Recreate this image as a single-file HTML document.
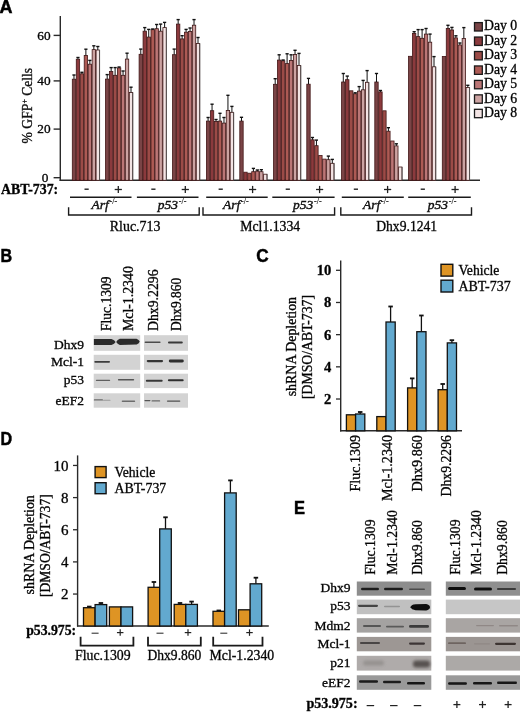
<!DOCTYPE html>
<html><head><meta charset="utf-8"><title>Figure</title>
<style>
html,body{margin:0;padding:0;background:#fff;}
body{width:520px;height:712px;overflow:hidden;font-family:"Liberation Serif",serif;}
svg{display:block;filter:blur(0.35px);}
text{stroke:#111;stroke-width:0.34px;}
</style></head><body>
<svg width="520" height="712" viewBox="0 0 520 712">
<defs>
<filter id="bS" x="-20%" y="-100%" width="140%" height="300%"><feGaussianBlur stdDeviation="0.6"/></filter>
<filter id="bL" x="-20%" y="-100%" width="140%" height="300%"><feGaussianBlur stdDeviation="1.4"/></filter>
</defs>
<rect width="520" height="712" fill="#fff"/>
<text x="-0.6" y="12.5" font-size="18.5" font-family="Liberation Sans" font-weight="bold" textLength="13" lengthAdjust="spacingAndGlyphs" fill="#000" style="stroke:#000;stroke-width:0.5px">A</text>
<line x1="60.3" y1="16" x2="60.3" y2="180.9" stroke="#2a2a2a" stroke-width="1.4"/>
<line x1="59.6" y1="180.3" x2="480" y2="180.3" stroke="#2a2a2a" stroke-width="1.4"/>
<line x1="53.6" y1="35.4" x2="60.3" y2="35.4" stroke="#2a2a2a" stroke-width="1.4"/>
<text x="50.6" y="39.5" font-size="13.3" font-family="Liberation Serif" text-anchor="end">60</text>
<line x1="53.6" y1="80.9" x2="60.3" y2="80.9" stroke="#2a2a2a" stroke-width="1.4"/>
<text x="50.6" y="85" font-size="13.3" font-family="Liberation Serif" text-anchor="end">40</text>
<line x1="53.6" y1="129.1" x2="60.3" y2="129.1" stroke="#2a2a2a" stroke-width="1.4"/>
<text x="50.6" y="133.2" font-size="13.3" font-family="Liberation Serif" text-anchor="end">20</text>
<line x1="53.6" y1="177.7" x2="60.3" y2="177.7" stroke="#2a2a2a" stroke-width="1.4"/>
<text x="48.4" y="181.8" font-size="13.3" font-family="Liberation Serif" text-anchor="end">0</text>
<text x="31.6" y="143.8" font-size="14.2" font-family="Liberation Serif" fill="#111" transform="rotate(-90 31.4 143.6)" textLength="75.6" lengthAdjust="spacingAndGlyphs">% GFP<tspan font-size="8" dy="-5">+</tspan><tspan dy="5"> Cells</tspan></text>
<rect x="72.3" y="79.2" width="3.37" height="101.1" fill="#7a4446" stroke="#421616" stroke-width="0.8"/>
<rect x="76.27" y="59.2" width="3.37" height="121.1" fill="#8b3a3d" stroke="#421616" stroke-width="0.8"/>
<rect x="80.24" y="73.8" width="3.37" height="106.5" fill="#9c4b47" stroke="#421616" stroke-width="0.8"/>
<rect x="84.21" y="55.4" width="3.37" height="124.9" fill="#ad5a54" stroke="#421616" stroke-width="0.8"/>
<rect x="88.18" y="64.2" width="3.37" height="116.1" fill="#bb7676" stroke="#421616" stroke-width="0.8"/>
<rect x="92.15" y="49.6" width="3.37" height="130.7" fill="#cca3a2" stroke="#421616" stroke-width="0.8"/>
<rect x="96.12" y="50" width="3.37" height="130.3" fill="#f3e4e4" stroke="#421616" stroke-width="0.8"/>
<line x1="73.98" y1="79.2" x2="73.98" y2="75" stroke="#111111" stroke-width="1"/>
<line x1="72.39" y1="75" x2="75.58" y2="75" stroke="#111111" stroke-width="1.4"/>
<line x1="77.95" y1="59.2" x2="77.95" y2="57.5" stroke="#111111" stroke-width="1"/>
<line x1="76.36" y1="57.5" x2="79.55" y2="57.5" stroke="#111111" stroke-width="1.4"/>
<line x1="81.92" y1="73.8" x2="81.92" y2="72.3" stroke="#111111" stroke-width="1"/>
<line x1="80.33" y1="72.3" x2="83.52" y2="72.3" stroke="#111111" stroke-width="1.4"/>
<line x1="85.89" y1="55.4" x2="85.89" y2="49.2" stroke="#111111" stroke-width="1"/>
<line x1="84.3" y1="49.2" x2="87.49" y2="49.2" stroke="#111111" stroke-width="1.4"/>
<line x1="89.86" y1="64.2" x2="89.86" y2="60.4" stroke="#111111" stroke-width="1"/>
<line x1="88.27" y1="60.4" x2="91.46" y2="60.4" stroke="#111111" stroke-width="1.4"/>
<line x1="93.83" y1="49.6" x2="93.83" y2="45.8" stroke="#111111" stroke-width="1"/>
<line x1="92.23" y1="45.8" x2="95.43" y2="45.8" stroke="#111111" stroke-width="1.4"/>
<line x1="97.8" y1="50" x2="97.8" y2="46.5" stroke="#111111" stroke-width="1"/>
<line x1="96.2" y1="46.5" x2="99.4" y2="46.5" stroke="#111111" stroke-width="1.4"/>
<line x1="99.59" y1="50" x2="99.59" y2="180.3" stroke="#555" stroke-width="0.9"/>
<rect x="105.5" y="79.1" width="3.37" height="101.2" fill="#7a4446" stroke="#421616" stroke-width="0.8"/>
<rect x="109.47" y="71.4" width="3.37" height="108.9" fill="#8b3a3d" stroke="#421616" stroke-width="0.8"/>
<rect x="113.44" y="75.3" width="3.37" height="105" fill="#9c4b47" stroke="#421616" stroke-width="0.8"/>
<rect x="117.41" y="67.9" width="3.37" height="112.4" fill="#ad5a54" stroke="#421616" stroke-width="0.8"/>
<rect x="121.38" y="75.3" width="3.37" height="105" fill="#bb7676" stroke="#421616" stroke-width="0.8"/>
<rect x="125.35" y="59.1" width="3.37" height="121.2" fill="#cca3a2" stroke="#421616" stroke-width="0.8"/>
<rect x="129.32" y="92.5" width="3.37" height="87.8" fill="#f3e4e4" stroke="#421616" stroke-width="0.8"/>
<line x1="107.19" y1="79.1" x2="107.19" y2="74.6" stroke="#111111" stroke-width="1"/>
<line x1="105.59" y1="74.6" x2="108.78" y2="74.6" stroke="#111111" stroke-width="1.4"/>
<line x1="111.16" y1="71.4" x2="111.16" y2="67.6" stroke="#111111" stroke-width="1"/>
<line x1="109.56" y1="67.6" x2="112.75" y2="67.6" stroke="#111111" stroke-width="1.4"/>
<line x1="115.12" y1="75.3" x2="115.12" y2="67.6" stroke="#111111" stroke-width="1"/>
<line x1="113.53" y1="67.6" x2="116.72" y2="67.6" stroke="#111111" stroke-width="1.4"/>
<line x1="119.09" y1="67.9" x2="119.09" y2="67" stroke="#111111" stroke-width="1"/>
<line x1="117.5" y1="67" x2="120.69" y2="67" stroke="#111111" stroke-width="1.4"/>
<line x1="123.06" y1="75.3" x2="123.06" y2="71" stroke="#111111" stroke-width="1"/>
<line x1="121.47" y1="71" x2="124.66" y2="71" stroke="#111111" stroke-width="1.4"/>
<line x1="127.04" y1="59.1" x2="127.04" y2="53.2" stroke="#111111" stroke-width="1"/>
<line x1="125.44" y1="53.2" x2="128.64" y2="53.2" stroke="#111111" stroke-width="1.4"/>
<line x1="131.01" y1="92.5" x2="131.01" y2="87.2" stroke="#111111" stroke-width="1"/>
<line x1="129.41" y1="87.2" x2="132.61" y2="87.2" stroke="#111111" stroke-width="1.4"/>
<line x1="132.79" y1="92.5" x2="132.79" y2="180.3" stroke="#555" stroke-width="0.9"/>
<rect x="139.1" y="54.3" width="3.37" height="126" fill="#7a4446" stroke="#421616" stroke-width="0.8"/>
<rect x="143.07" y="31.2" width="3.37" height="149.1" fill="#8b3a3d" stroke="#421616" stroke-width="0.8"/>
<rect x="147.04" y="37.1" width="3.37" height="143.2" fill="#9c4b47" stroke="#421616" stroke-width="0.8"/>
<rect x="151.01" y="29.7" width="3.37" height="150.6" fill="#ad5a54" stroke="#421616" stroke-width="0.8"/>
<rect x="154.98" y="28.7" width="3.37" height="151.6" fill="#bb7676" stroke="#421616" stroke-width="0.8"/>
<rect x="158.95" y="31.2" width="3.37" height="149.1" fill="#cca3a2" stroke="#421616" stroke-width="0.8"/>
<rect x="162.92" y="27.6" width="3.37" height="152.7" fill="#f3e4e4" stroke="#421616" stroke-width="0.8"/>
<line x1="140.79" y1="54.3" x2="140.79" y2="49.1" stroke="#111111" stroke-width="1"/>
<line x1="139.19" y1="49.1" x2="142.39" y2="49.1" stroke="#111111" stroke-width="1.4"/>
<line x1="144.76" y1="31.2" x2="144.76" y2="27.6" stroke="#111111" stroke-width="1"/>
<line x1="143.16" y1="27.6" x2="146.36" y2="27.6" stroke="#111111" stroke-width="1.4"/>
<line x1="148.73" y1="37.1" x2="148.73" y2="29.4" stroke="#111111" stroke-width="1"/>
<line x1="147.13" y1="29.4" x2="150.33" y2="29.4" stroke="#111111" stroke-width="1.4"/>
<line x1="152.7" y1="29.7" x2="152.7" y2="29" stroke="#111111" stroke-width="1"/>
<line x1="151.1" y1="29" x2="154.3" y2="29" stroke="#111111" stroke-width="1.4"/>
<line x1="156.67" y1="28.7" x2="156.67" y2="24.5" stroke="#111111" stroke-width="1"/>
<line x1="155.07" y1="24.5" x2="158.27" y2="24.5" stroke="#111111" stroke-width="1.4"/>
<line x1="160.64" y1="31.2" x2="160.64" y2="24.1" stroke="#111111" stroke-width="1"/>
<line x1="159.04" y1="24.1" x2="162.24" y2="24.1" stroke="#111111" stroke-width="1.4"/>
<line x1="164.61" y1="27.6" x2="164.61" y2="22.4" stroke="#111111" stroke-width="1"/>
<line x1="163.01" y1="22.4" x2="166.21" y2="22.4" stroke="#111111" stroke-width="1.4"/>
<line x1="166.39" y1="27.6" x2="166.39" y2="180.3" stroke="#555" stroke-width="0.9"/>
<rect x="172.5" y="54.7" width="3.37" height="125.6" fill="#7a4446" stroke="#421616" stroke-width="0.8"/>
<rect x="176.47" y="24.1" width="3.37" height="156.2" fill="#8b3a3d" stroke="#421616" stroke-width="0.8"/>
<rect x="180.44" y="38.9" width="3.37" height="141.4" fill="#9c4b47" stroke="#421616" stroke-width="0.8"/>
<rect x="184.41" y="32.2" width="3.37" height="148.1" fill="#ad5a54" stroke="#421616" stroke-width="0.8"/>
<rect x="188.38" y="31.5" width="3.37" height="148.8" fill="#bb7676" stroke="#421616" stroke-width="0.8"/>
<rect x="192.35" y="25.2" width="3.37" height="155.1" fill="#cca3a2" stroke="#421616" stroke-width="0.8"/>
<rect x="196.32" y="43.4" width="3.37" height="136.9" fill="#f3e4e4" stroke="#421616" stroke-width="0.8"/>
<line x1="174.19" y1="54.7" x2="174.19" y2="49.1" stroke="#111111" stroke-width="1"/>
<line x1="172.59" y1="49.1" x2="175.78" y2="49.1" stroke="#111111" stroke-width="1.4"/>
<line x1="178.16" y1="24.1" x2="178.16" y2="19.6" stroke="#111111" stroke-width="1"/>
<line x1="176.56" y1="19.6" x2="179.75" y2="19.6" stroke="#111111" stroke-width="1.4"/>
<line x1="182.12" y1="38.9" x2="182.12" y2="35.7" stroke="#111111" stroke-width="1"/>
<line x1="180.53" y1="35.7" x2="183.72" y2="35.7" stroke="#111111" stroke-width="1.4"/>
<line x1="186.09" y1="32.2" x2="186.09" y2="29.4" stroke="#111111" stroke-width="1"/>
<line x1="184.5" y1="29.4" x2="187.69" y2="29.4" stroke="#111111" stroke-width="1.4"/>
<line x1="190.06" y1="31.5" x2="190.06" y2="28" stroke="#111111" stroke-width="1"/>
<line x1="188.47" y1="28" x2="191.66" y2="28" stroke="#111111" stroke-width="1.4"/>
<line x1="194.03" y1="25.2" x2="194.03" y2="19.6" stroke="#111111" stroke-width="1"/>
<line x1="192.44" y1="19.6" x2="195.63" y2="19.6" stroke="#111111" stroke-width="1.4"/>
<line x1="198" y1="43.4" x2="198" y2="37.5" stroke="#111111" stroke-width="1"/>
<line x1="196.41" y1="37.5" x2="199.6" y2="37.5" stroke="#111111" stroke-width="1.4"/>
<line x1="199.79" y1="43.4" x2="199.79" y2="180.3" stroke="#555" stroke-width="0.9"/>
<rect x="206.4" y="121.1" width="3.37" height="59.2" fill="#7a4446" stroke="#421616" stroke-width="0.8"/>
<rect x="210.37" y="110.7" width="3.37" height="69.6" fill="#8b3a3d" stroke="#421616" stroke-width="0.8"/>
<rect x="214.34" y="121.5" width="3.37" height="58.8" fill="#9c4b47" stroke="#421616" stroke-width="0.8"/>
<rect x="218.31" y="121.1" width="3.37" height="59.2" fill="#ad5a54" stroke="#421616" stroke-width="0.8"/>
<rect x="222.28" y="123.1" width="3.37" height="57.2" fill="#bb7676" stroke="#421616" stroke-width="0.8"/>
<rect x="226.25" y="110.4" width="3.37" height="69.9" fill="#cca3a2" stroke="#421616" stroke-width="0.8"/>
<rect x="230.22" y="112.3" width="3.37" height="68" fill="#f3e4e4" stroke="#421616" stroke-width="0.8"/>
<line x1="208.09" y1="121.1" x2="208.09" y2="117.5" stroke="#111111" stroke-width="1"/>
<line x1="206.49" y1="117.5" x2="209.69" y2="117.5" stroke="#111111" stroke-width="1.4"/>
<line x1="212.06" y1="110.7" x2="212.06" y2="104.2" stroke="#111111" stroke-width="1"/>
<line x1="210.46" y1="104.2" x2="213.66" y2="104.2" stroke="#111111" stroke-width="1.4"/>
<line x1="216.03" y1="121.5" x2="216.03" y2="119.5" stroke="#111111" stroke-width="1"/>
<line x1="214.43" y1="119.5" x2="217.62" y2="119.5" stroke="#111111" stroke-width="1.4"/>
<line x1="220" y1="121.1" x2="220" y2="113.3" stroke="#111111" stroke-width="1"/>
<line x1="218.4" y1="113.3" x2="221.59" y2="113.3" stroke="#111111" stroke-width="1.4"/>
<line x1="223.97" y1="123.1" x2="223.97" y2="117.5" stroke="#111111" stroke-width="1"/>
<line x1="222.37" y1="117.5" x2="225.56" y2="117.5" stroke="#111111" stroke-width="1.4"/>
<line x1="227.94" y1="110.4" x2="227.94" y2="95.3" stroke="#111111" stroke-width="1"/>
<line x1="226.34" y1="95.3" x2="229.53" y2="95.3" stroke="#111111" stroke-width="1.4"/>
<line x1="231.91" y1="112.3" x2="231.91" y2="106.4" stroke="#111111" stroke-width="1"/>
<line x1="230.31" y1="106.4" x2="233.5" y2="106.4" stroke="#111111" stroke-width="1.4"/>
<line x1="233.69" y1="112.3" x2="233.69" y2="180.3" stroke="#555" stroke-width="0.9"/>
<rect x="239.8" y="121.1" width="3.37" height="59.2" fill="#7a4446" stroke="#421616" stroke-width="0.8"/>
<rect x="243.77" y="172.2" width="3.37" height="8.1" fill="#8b3a3d" stroke="#421616" stroke-width="0.8"/>
<rect x="247.74" y="173.2" width="3.37" height="7.1" fill="#9c4b47" stroke="#421616" stroke-width="0.8"/>
<rect x="251.71" y="171.7" width="3.37" height="8.6" fill="#ad5a54" stroke="#421616" stroke-width="0.8"/>
<rect x="255.68" y="171.2" width="3.37" height="9.1" fill="#bb7676" stroke="#421616" stroke-width="0.8"/>
<rect x="259.65" y="171.7" width="3.37" height="8.6" fill="#cca3a2" stroke="#421616" stroke-width="0.8"/>
<rect x="263.62" y="174.2" width="3.37" height="6.1" fill="#f3e4e4" stroke="#421616" stroke-width="0.8"/>
<line x1="241.49" y1="121.1" x2="241.49" y2="117.3" stroke="#111111" stroke-width="1"/>
<line x1="239.89" y1="117.3" x2="243.09" y2="117.3" stroke="#111111" stroke-width="1.4"/>
<line x1="253.4" y1="171.7" x2="253.4" y2="168.4" stroke="#111111" stroke-width="1"/>
<line x1="251.8" y1="168.4" x2="255" y2="168.4" stroke="#111111" stroke-width="1.4"/>
<line x1="257.37" y1="171.2" x2="257.37" y2="170" stroke="#111111" stroke-width="1"/>
<line x1="255.77" y1="170" x2="258.97" y2="170" stroke="#111111" stroke-width="1.4"/>
<line x1="261.34" y1="171.7" x2="261.34" y2="169.7" stroke="#111111" stroke-width="1"/>
<line x1="259.74" y1="169.7" x2="262.94" y2="169.7" stroke="#111111" stroke-width="1.4"/>
<line x1="267.09" y1="174.2" x2="267.09" y2="180.3" stroke="#555" stroke-width="0.9"/>
<rect x="273.5" y="84.3" width="3.37" height="96" fill="#7a4446" stroke="#421616" stroke-width="0.8"/>
<rect x="277.47" y="60.1" width="3.37" height="120.2" fill="#8b3a3d" stroke="#421616" stroke-width="0.8"/>
<rect x="281.44" y="60.8" width="3.37" height="119.5" fill="#9c4b47" stroke="#421616" stroke-width="0.8"/>
<rect x="285.41" y="63.6" width="3.37" height="116.7" fill="#ad5a54" stroke="#421616" stroke-width="0.8"/>
<rect x="289.38" y="60.4" width="3.37" height="119.9" fill="#bb7676" stroke="#421616" stroke-width="0.8"/>
<rect x="293.35" y="54.5" width="3.37" height="125.8" fill="#cca3a2" stroke="#421616" stroke-width="0.8"/>
<rect x="297.32" y="65.4" width="3.37" height="114.9" fill="#f3e4e4" stroke="#421616" stroke-width="0.8"/>
<line x1="275.19" y1="84.3" x2="275.19" y2="78.7" stroke="#111111" stroke-width="1"/>
<line x1="273.58" y1="78.7" x2="276.79" y2="78.7" stroke="#111111" stroke-width="1.4"/>
<line x1="279.16" y1="60.1" x2="279.16" y2="54.8" stroke="#111111" stroke-width="1"/>
<line x1="277.56" y1="54.8" x2="280.76" y2="54.8" stroke="#111111" stroke-width="1.4"/>
<line x1="283.12" y1="60.8" x2="283.12" y2="60" stroke="#111111" stroke-width="1"/>
<line x1="281.52" y1="60" x2="284.73" y2="60" stroke="#111111" stroke-width="1.4"/>
<line x1="287.1" y1="63.6" x2="287.1" y2="53.8" stroke="#111111" stroke-width="1"/>
<line x1="285.5" y1="53.8" x2="288.7" y2="53.8" stroke="#111111" stroke-width="1.4"/>
<line x1="291.06" y1="60.4" x2="291.06" y2="54.8" stroke="#111111" stroke-width="1"/>
<line x1="289.46" y1="54.8" x2="292.67" y2="54.8" stroke="#111111" stroke-width="1.4"/>
<line x1="295.04" y1="54.5" x2="295.04" y2="50.3" stroke="#111111" stroke-width="1"/>
<line x1="293.44" y1="50.3" x2="296.64" y2="50.3" stroke="#111111" stroke-width="1.4"/>
<line x1="299" y1="65.4" x2="299" y2="53.4" stroke="#111111" stroke-width="1"/>
<line x1="297.4" y1="53.4" x2="300.61" y2="53.4" stroke="#111111" stroke-width="1.4"/>
<line x1="300.79" y1="65.4" x2="300.79" y2="180.3" stroke="#555" stroke-width="0.9"/>
<rect x="306.8" y="84.2" width="3.37" height="96.1" fill="#7a4446" stroke="#421616" stroke-width="0.8"/>
<rect x="310.77" y="139.8" width="3.37" height="40.5" fill="#8b3a3d" stroke="#421616" stroke-width="0.8"/>
<rect x="314.74" y="145.7" width="3.37" height="34.6" fill="#9c4b47" stroke="#421616" stroke-width="0.8"/>
<rect x="318.71" y="155.5" width="3.37" height="24.8" fill="#ad5a54" stroke="#421616" stroke-width="0.8"/>
<rect x="322.68" y="159.1" width="3.37" height="21.2" fill="#bb7676" stroke="#421616" stroke-width="0.8"/>
<rect x="326.65" y="159.7" width="3.37" height="20.6" fill="#cca3a2" stroke="#421616" stroke-width="0.8"/>
<rect x="330.62" y="163.3" width="3.37" height="17" fill="#f3e4e4" stroke="#421616" stroke-width="0.8"/>
<line x1="308.49" y1="84.2" x2="308.49" y2="78.4" stroke="#111111" stroke-width="1"/>
<line x1="306.88" y1="78.4" x2="310.09" y2="78.4" stroke="#111111" stroke-width="1.4"/>
<line x1="312.46" y1="139.8" x2="312.46" y2="137.5" stroke="#111111" stroke-width="1"/>
<line x1="310.86" y1="137.5" x2="314.06" y2="137.5" stroke="#111111" stroke-width="1.4"/>
<line x1="316.43" y1="145.7" x2="316.43" y2="140.1" stroke="#111111" stroke-width="1"/>
<line x1="314.82" y1="140.1" x2="318.03" y2="140.1" stroke="#111111" stroke-width="1.4"/>
<line x1="328.34" y1="159.7" x2="328.34" y2="156.1" stroke="#111111" stroke-width="1"/>
<line x1="326.74" y1="156.1" x2="329.94" y2="156.1" stroke="#111111" stroke-width="1.4"/>
<line x1="332.31" y1="163.3" x2="332.31" y2="159.4" stroke="#111111" stroke-width="1"/>
<line x1="330.7" y1="159.4" x2="333.91" y2="159.4" stroke="#111111" stroke-width="1.4"/>
<line x1="334.09" y1="163.3" x2="334.09" y2="180.3" stroke="#555" stroke-width="0.9"/>
<rect x="341.6" y="82" width="3.37" height="98.3" fill="#7a4446" stroke="#421616" stroke-width="0.8"/>
<rect x="345.57" y="79.7" width="3.37" height="100.6" fill="#8b3a3d" stroke="#421616" stroke-width="0.8"/>
<rect x="349.54" y="90.8" width="3.37" height="89.5" fill="#9c4b47" stroke="#421616" stroke-width="0.8"/>
<rect x="353.51" y="93.8" width="3.37" height="86.5" fill="#ad5a54" stroke="#421616" stroke-width="0.8"/>
<rect x="357.48" y="91.1" width="3.37" height="89.2" fill="#bb7676" stroke="#421616" stroke-width="0.8"/>
<rect x="361.45" y="89.8" width="3.37" height="90.5" fill="#cca3a2" stroke="#421616" stroke-width="0.8"/>
<rect x="365.42" y="82.3" width="3.37" height="98" fill="#f3e4e4" stroke="#421616" stroke-width="0.8"/>
<line x1="343.29" y1="82" x2="343.29" y2="73.5" stroke="#111111" stroke-width="1"/>
<line x1="341.69" y1="73.5" x2="344.89" y2="73.5" stroke="#111111" stroke-width="1.4"/>
<line x1="347.26" y1="79.7" x2="347.26" y2="76.1" stroke="#111111" stroke-width="1"/>
<line x1="345.66" y1="76.1" x2="348.86" y2="76.1" stroke="#111111" stroke-width="1.4"/>
<line x1="355.2" y1="93.8" x2="355.2" y2="92.8" stroke="#111111" stroke-width="1"/>
<line x1="353.6" y1="92.8" x2="356.8" y2="92.8" stroke="#111111" stroke-width="1.4"/>
<line x1="359.17" y1="91.1" x2="359.17" y2="86.6" stroke="#111111" stroke-width="1"/>
<line x1="357.56" y1="86.6" x2="360.77" y2="86.6" stroke="#111111" stroke-width="1.4"/>
<line x1="363.14" y1="89.8" x2="363.14" y2="80.4" stroke="#111111" stroke-width="1"/>
<line x1="361.54" y1="80.4" x2="364.74" y2="80.4" stroke="#111111" stroke-width="1.4"/>
<line x1="367.11" y1="82.3" x2="367.11" y2="70.6" stroke="#111111" stroke-width="1"/>
<line x1="365.5" y1="70.6" x2="368.71" y2="70.6" stroke="#111111" stroke-width="1.4"/>
<line x1="368.89" y1="82.3" x2="368.89" y2="180.3" stroke="#555" stroke-width="0.9"/>
<rect x="374.8" y="82" width="3.37" height="98.3" fill="#7a4446" stroke="#421616" stroke-width="0.8"/>
<rect x="378.77" y="91.9" width="3.37" height="88.4" fill="#8b3a3d" stroke="#421616" stroke-width="0.8"/>
<rect x="382.74" y="110.8" width="3.37" height="69.5" fill="#9c4b47" stroke="#421616" stroke-width="0.8"/>
<rect x="386.71" y="131.2" width="3.37" height="49.1" fill="#ad5a54" stroke="#421616" stroke-width="0.8"/>
<rect x="390.68" y="141" width="3.37" height="39.3" fill="#bb7676" stroke="#421616" stroke-width="0.8"/>
<rect x="394.65" y="145.9" width="3.37" height="34.4" fill="#cca3a2" stroke="#421616" stroke-width="0.8"/>
<rect x="398.62" y="167" width="3.37" height="13.3" fill="#f3e4e4" stroke="#421616" stroke-width="0.8"/>
<line x1="376.49" y1="82" x2="376.49" y2="73.5" stroke="#111111" stroke-width="1"/>
<line x1="374.88" y1="73.5" x2="378.09" y2="73.5" stroke="#111111" stroke-width="1.4"/>
<line x1="380.46" y1="91.9" x2="380.46" y2="90.5" stroke="#111111" stroke-width="1"/>
<line x1="378.86" y1="90.5" x2="382.06" y2="90.5" stroke="#111111" stroke-width="1.4"/>
<line x1="388.4" y1="131.2" x2="388.4" y2="127.7" stroke="#111111" stroke-width="1"/>
<line x1="386.8" y1="127.7" x2="390" y2="127.7" stroke="#111111" stroke-width="1.4"/>
<line x1="396.34" y1="145.9" x2="396.34" y2="143.8" stroke="#111111" stroke-width="1"/>
<line x1="394.74" y1="143.8" x2="397.94" y2="143.8" stroke="#111111" stroke-width="1.4"/>
<line x1="402.09" y1="167" x2="402.09" y2="180.3" stroke="#555" stroke-width="0.9"/>
<rect x="408.5" y="56.3" width="3.37" height="124" fill="#7a4446" stroke="#421616" stroke-width="0.8"/>
<rect x="412.47" y="33.4" width="3.37" height="146.9" fill="#8b3a3d" stroke="#421616" stroke-width="0.8"/>
<rect x="416.44" y="36.6" width="3.37" height="143.7" fill="#9c4b47" stroke="#421616" stroke-width="0.8"/>
<rect x="420.41" y="38.3" width="3.37" height="142" fill="#ad5a54" stroke="#421616" stroke-width="0.8"/>
<rect x="424.38" y="34.1" width="3.37" height="146.2" fill="#bb7676" stroke="#421616" stroke-width="0.8"/>
<rect x="428.35" y="42.2" width="3.37" height="138.1" fill="#cca3a2" stroke="#421616" stroke-width="0.8"/>
<rect x="432.32" y="66.8" width="3.37" height="113.5" fill="#f3e4e4" stroke="#421616" stroke-width="0.8"/>
<line x1="414.16" y1="33.4" x2="414.16" y2="31.7" stroke="#111111" stroke-width="1"/>
<line x1="412.56" y1="31.7" x2="415.76" y2="31.7" stroke="#111111" stroke-width="1.4"/>
<line x1="418.12" y1="36.6" x2="418.12" y2="29.6" stroke="#111111" stroke-width="1"/>
<line x1="416.52" y1="29.6" x2="419.73" y2="29.6" stroke="#111111" stroke-width="1.4"/>
<line x1="422.1" y1="38.3" x2="422.1" y2="29.6" stroke="#111111" stroke-width="1"/>
<line x1="420.5" y1="29.6" x2="423.7" y2="29.6" stroke="#111111" stroke-width="1.4"/>
<line x1="426.06" y1="34.1" x2="426.06" y2="28.5" stroke="#111111" stroke-width="1"/>
<line x1="424.46" y1="28.5" x2="427.67" y2="28.5" stroke="#111111" stroke-width="1.4"/>
<line x1="430.04" y1="42.2" x2="430.04" y2="34.1" stroke="#111111" stroke-width="1"/>
<line x1="428.44" y1="34.1" x2="431.64" y2="34.1" stroke="#111111" stroke-width="1.4"/>
<line x1="434" y1="66.8" x2="434" y2="56.6" stroke="#111111" stroke-width="1"/>
<line x1="432.4" y1="56.6" x2="435.61" y2="56.6" stroke="#111111" stroke-width="1.4"/>
<line x1="435.79" y1="66.8" x2="435.79" y2="180.3" stroke="#555" stroke-width="0.9"/>
<rect x="442.3" y="56.4" width="3.37" height="123.9" fill="#7a4446" stroke="#421616" stroke-width="0.8"/>
<rect x="446.27" y="28.4" width="3.37" height="151.9" fill="#8b3a3d" stroke="#421616" stroke-width="0.8"/>
<rect x="450.24" y="30" width="3.37" height="150.3" fill="#9c4b47" stroke="#421616" stroke-width="0.8"/>
<rect x="454.21" y="37.9" width="3.37" height="142.4" fill="#ad5a54" stroke="#421616" stroke-width="0.8"/>
<rect x="458.18" y="45" width="3.37" height="135.3" fill="#bb7676" stroke="#421616" stroke-width="0.8"/>
<rect x="462.15" y="38.4" width="3.37" height="141.9" fill="#cca3a2" stroke="#421616" stroke-width="0.8"/>
<rect x="466.12" y="87.4" width="3.37" height="92.9" fill="#f3e4e4" stroke="#421616" stroke-width="0.8"/>
<line x1="447.96" y1="28.4" x2="447.96" y2="25.3" stroke="#111111" stroke-width="1"/>
<line x1="446.36" y1="25.3" x2="449.56" y2="25.3" stroke="#111111" stroke-width="1.4"/>
<line x1="451.93" y1="30" x2="451.93" y2="27.4" stroke="#111111" stroke-width="1"/>
<line x1="450.32" y1="27.4" x2="453.53" y2="27.4" stroke="#111111" stroke-width="1.4"/>
<line x1="455.9" y1="37.9" x2="455.9" y2="35.8" stroke="#111111" stroke-width="1"/>
<line x1="454.3" y1="35.8" x2="457.5" y2="35.8" stroke="#111111" stroke-width="1.4"/>
<line x1="459.87" y1="45" x2="459.87" y2="43" stroke="#111111" stroke-width="1"/>
<line x1="458.26" y1="43" x2="461.47" y2="43" stroke="#111111" stroke-width="1.4"/>
<line x1="463.84" y1="38.4" x2="463.84" y2="27.6" stroke="#111111" stroke-width="1"/>
<line x1="462.24" y1="27.6" x2="465.44" y2="27.6" stroke="#111111" stroke-width="1.4"/>
<line x1="467.81" y1="87.4" x2="467.81" y2="85.3" stroke="#111111" stroke-width="1"/>
<line x1="466.2" y1="85.3" x2="469.41" y2="85.3" stroke="#111111" stroke-width="1.4"/>
<line x1="469.59" y1="87.4" x2="469.59" y2="180.3" stroke="#555" stroke-width="0.9"/>
<rect x="474.5" y="22.6" width="7.8" height="8.4" fill="#7a4446" stroke="#1a1a1a" stroke-width="1.3"/>
<text x="484" y="30.3" font-size="14" font-family="Liberation Serif" textLength="33.2" lengthAdjust="spacingAndGlyphs">Day 0</text>
<rect x="474.5" y="37.05" width="7.8" height="8.4" fill="#8b3a3d" stroke="#1a1a1a" stroke-width="1.3"/>
<text x="484" y="44.75" font-size="14" font-family="Liberation Serif" textLength="33.2" lengthAdjust="spacingAndGlyphs">Day 2</text>
<rect x="474.5" y="51.5" width="7.8" height="8.4" fill="#9c4b47" stroke="#1a1a1a" stroke-width="1.3"/>
<text x="484" y="59.2" font-size="14" font-family="Liberation Serif" textLength="33.2" lengthAdjust="spacingAndGlyphs">Day 3</text>
<rect x="474.5" y="65.95" width="7.8" height="8.4" fill="#ad5a54" stroke="#1a1a1a" stroke-width="1.3"/>
<text x="484" y="73.65" font-size="14" font-family="Liberation Serif" textLength="33.2" lengthAdjust="spacingAndGlyphs">Day 4</text>
<rect x="474.5" y="80.4" width="7.8" height="8.4" fill="#bb7676" stroke="#1a1a1a" stroke-width="1.3"/>
<text x="484" y="88.1" font-size="14" font-family="Liberation Serif" textLength="33.2" lengthAdjust="spacingAndGlyphs">Day 5</text>
<rect x="474.5" y="94.85" width="7.8" height="8.4" fill="#cca3a2" stroke="#1a1a1a" stroke-width="1.3"/>
<text x="484" y="102.55" font-size="14" font-family="Liberation Serif" textLength="33.2" lengthAdjust="spacingAndGlyphs">Day 6</text>
<rect x="474.5" y="109.3" width="7.8" height="8.4" fill="#f3e4e4" stroke="#1a1a1a" stroke-width="1.3"/>
<text x="484" y="117" font-size="14" font-family="Liberation Serif" textLength="33.2" lengthAdjust="spacingAndGlyphs">Day 8</text>
<text x="1" y="193.6" font-size="14" font-family="Liberation Serif" font-weight="bold" textLength="57.2" lengthAdjust="spacingAndGlyphs">ABT-737:</text>
<line x1="84.5" y1="189.2" x2="88.7" y2="189.2" stroke="#222" stroke-width="1.4"/>
<line x1="114.7" y1="189.5" x2="121.9" y2="189.5" stroke="#222" stroke-width="1.3"/>
<line x1="118.3" y1="185.9" x2="118.3" y2="193.1" stroke="#222" stroke-width="1.3"/>
<line x1="151.3" y1="189.2" x2="155.5" y2="189.2" stroke="#222" stroke-width="1.4"/>
<line x1="181.7" y1="189.5" x2="188.9" y2="189.5" stroke="#222" stroke-width="1.3"/>
<line x1="185.3" y1="185.9" x2="185.3" y2="193.1" stroke="#222" stroke-width="1.3"/>
<line x1="218.6" y1="189.2" x2="222.8" y2="189.2" stroke="#222" stroke-width="1.4"/>
<line x1="249" y1="189.5" x2="256.2" y2="189.5" stroke="#222" stroke-width="1.3"/>
<line x1="252.6" y1="185.9" x2="252.6" y2="193.1" stroke="#222" stroke-width="1.3"/>
<line x1="285.7" y1="189.2" x2="289.9" y2="189.2" stroke="#222" stroke-width="1.4"/>
<line x1="316" y1="189.5" x2="323.2" y2="189.5" stroke="#222" stroke-width="1.3"/>
<line x1="319.6" y1="185.9" x2="319.6" y2="193.1" stroke="#222" stroke-width="1.3"/>
<line x1="353.8" y1="189.2" x2="358" y2="189.2" stroke="#222" stroke-width="1.4"/>
<line x1="384" y1="189.5" x2="391.2" y2="189.5" stroke="#222" stroke-width="1.3"/>
<line x1="387.6" y1="185.9" x2="387.6" y2="193.1" stroke="#222" stroke-width="1.3"/>
<line x1="420.7" y1="189.2" x2="424.9" y2="189.2" stroke="#222" stroke-width="1.4"/>
<line x1="451.5" y1="189.5" x2="458.7" y2="189.5" stroke="#222" stroke-width="1.3"/>
<line x1="455.1" y1="185.9" x2="455.1" y2="193.1" stroke="#222" stroke-width="1.3"/>
<line x1="70" y1="197.2" x2="131.5" y2="197.2" stroke="#1a1a1a" stroke-width="1.4"/>
<line x1="136.9" y1="197.2" x2="198.5" y2="197.2" stroke="#1a1a1a" stroke-width="1.4"/>
<line x1="206.2" y1="197.2" x2="267.7" y2="197.2" stroke="#1a1a1a" stroke-width="1.4"/>
<line x1="272.3" y1="197.2" x2="334.6" y2="197.2" stroke="#1a1a1a" stroke-width="1.4"/>
<line x1="341.8" y1="197.2" x2="403.8" y2="197.2" stroke="#1a1a1a" stroke-width="1.4"/>
<line x1="408.2" y1="197.2" x2="470.8" y2="197.2" stroke="#1a1a1a" stroke-width="1.4"/>
<text x="91.5" y="208.8" font-size="13.5" font-family="Liberation Serif" font-style="italic" fill="#111" style="stroke-width:0.4px">Arf<tspan font-size="8" dy="-4.6" font-style="normal" dx="0.8" style="stroke-width:0.15px">-/-</tspan></text>
<text x="157.7" y="208.8" font-size="13.5" font-family="Liberation Serif" font-style="italic" fill="#111" style="stroke-width:0.4px">p53<tspan font-size="8" dy="-4.6" font-style="normal" dx="0.8" style="stroke-width:0.15px">-/-</tspan></text>
<text x="223" y="208.8" font-size="13.5" font-family="Liberation Serif" font-style="italic" fill="#111" style="stroke-width:0.4px">Arf<tspan font-size="8" dy="-4.6" font-style="normal" dx="0.8" style="stroke-width:0.15px">-/-</tspan></text>
<text x="293" y="208.8" font-size="13.5" font-family="Liberation Serif" font-style="italic" fill="#111" style="stroke-width:0.4px">p53<tspan font-size="8" dy="-4.6" font-style="normal" dx="0.8" style="stroke-width:0.15px">-/-</tspan></text>
<text x="363" y="208.8" font-size="13.5" font-family="Liberation Serif" font-style="italic" fill="#111" style="stroke-width:0.4px">Arf<tspan font-size="8" dy="-4.6" font-style="normal" dx="0.8" style="stroke-width:0.15px">-/-</tspan></text>
<text x="427.7" y="208.8" font-size="13.5" font-family="Liberation Serif" font-style="italic" fill="#111" style="stroke-width:0.4px">p53<tspan font-size="8" dy="-4.6" font-style="normal" dx="0.8" style="stroke-width:0.15px">-/-</tspan></text>
<path d="M68.6 207.2 V215 H199.2 V207.2" fill="none" stroke="#1a1a1a" stroke-width="1.4"/>
<path d="M203 207.2 V215 H334.6 V207.2" fill="none" stroke="#1a1a1a" stroke-width="1.4"/>
<path d="M340.8 207.2 V215 H471.5 V207.2" fill="none" stroke="#1a1a1a" stroke-width="1.4"/>
<text x="109.8" y="230.8" font-size="14.5" font-family="Liberation Serif" textLength="50.6" lengthAdjust="spacingAndGlyphs">Rluc.713</text>
<text x="240.3" y="230.8" font-size="14.5" font-family="Liberation Serif" textLength="59.9" lengthAdjust="spacingAndGlyphs">Mcl1.1334</text>
<text x="376.2" y="230.8" font-size="14.5" font-family="Liberation Serif" textLength="61" lengthAdjust="spacingAndGlyphs">Dhx9.1241</text>
<text x="0.6" y="261.5" font-size="18" font-family="Liberation Sans" font-weight="bold" textLength="11.6" lengthAdjust="spacingAndGlyphs" fill="#000" style="stroke:#000;stroke-width:0.5px">B</text>
<text x="110.9" y="331" font-size="14.5" font-family="Liberation Serif" transform="rotate(-90 110.9 331)" textLength="54.5" lengthAdjust="spacingAndGlyphs">Fluc.1309</text>
<text x="132.9" y="331" font-size="14.5" font-family="Liberation Serif" transform="rotate(-90 132.9 331)" textLength="64.8" lengthAdjust="spacingAndGlyphs">Mcl-1.2340</text>
<text x="157.8" y="331" font-size="14.5" font-family="Liberation Serif" transform="rotate(-90 157.8 331)" textLength="61.6" lengthAdjust="spacingAndGlyphs">Dhx9.2296</text>
<text x="181.2" y="331" font-size="14.5" font-family="Liberation Serif" transform="rotate(-90 181.2 331)" textLength="53.2" lengthAdjust="spacingAndGlyphs">Dhx9.860</text>
<rect x="93.7" y="335.2" width="46.5" height="15.6" fill="#d3d3d3"/>
<rect x="144" y="335.2" width="44" height="15.6" fill="#d3d3d3"/>
<rect x="93.7" y="354.8" width="46.5" height="15" fill="#d3d3d3"/>
<rect x="144" y="354.8" width="44" height="15" fill="#d3d3d3"/>
<rect x="93.7" y="373.7" width="46.5" height="14.4" fill="#d3d3d3"/>
<rect x="144" y="373.7" width="44" height="14.4" fill="#d3d3d3"/>
<rect x="93.7" y="393.3" width="46.5" height="14.4" fill="#d3d3d3"/>
<rect x="144" y="393.3" width="44" height="14.4" fill="#d3d3d3"/>
<text x="84" y="349.4" font-size="13.5" font-family="Liberation Serif" text-anchor="end">Dhx9</text>
<text x="84" y="365.8" font-size="13.5" font-family="Liberation Serif" text-anchor="end">Mcl-1</text>
<text x="84" y="383.9" font-size="13.5" font-family="Liberation Serif" text-anchor="end">p53</text>
<text x="84" y="405.1" font-size="13.5" font-family="Liberation Serif" text-anchor="end">eEF2</text>
<path d="M93.9 339.1 L111.5 339.0 Q114.6 340.2 115.6 341.9 Q114.6 343.8 111.5 345.0 L93.9 345.1 Z" fill="#2c2c2c" filter="url(#bS)"/>
<path d="M116.2 341.9 Q117.4 339.8 119.8 338.8 L136.5 338.7 Q139.2 339.8 139.7 341.6 Q139.2 343.6 136.8 344.6 L119.8 345.0 Q117.4 344.0 116.2 341.9 Z" fill="#2c2c2c" filter="url(#bS)"/>
<rect x="144.6" y="341.45" width="16" height="1.5" rx="0.75" fill="#4c4c4c" opacity="1" filter="url(#bS)"/>
<rect x="168" y="341.55" width="14.8" height="1.9" rx="0.95" fill="#383838" opacity="1" filter="url(#bS)"/>
<rect x="94.3" y="360.9" width="15.7" height="1.8" rx="0.9" fill="#3c3c3c" opacity="1" filter="url(#bS)"/>
<rect x="146.7" y="359.95" width="16.4" height="2.3" rx="1.15" fill="#363636" opacity="1" filter="url(#bS)"/>
<rect x="168.8" y="359.6" width="15" height="2.8" rx="1.4" fill="#2e2e2e" opacity="1" filter="url(#bS)"/>
<rect x="95.8" y="379.65" width="14.4" height="1.3" rx="0.65" fill="#5e5e5e" opacity="1" filter="url(#bS)"/>
<rect x="117.9" y="379.1" width="16.3" height="1.4" rx="0.7" fill="#555555" opacity="1" filter="url(#bS)"/>
<rect x="145.8" y="379.7" width="16.9" height="2" rx="1" fill="#383838" opacity="1" filter="url(#bS)"/>
<rect x="167.9" y="379.3" width="15.8" height="2" rx="1" fill="#2e2e2e" opacity="1" filter="url(#bS)"/>
<rect x="93.8" y="399.3" width="9.2" height="1.2" rx="0.6" fill="#6a6a6a" opacity="1" filter="url(#bS)"/>
<rect x="103" y="399.8" width="7.5" height="1" rx="0.5" fill="#9a9a9a" opacity="1" filter="url(#bS)"/>
<rect x="121.7" y="400.5" width="13.5" height="1.4" rx="0.7" fill="#6c6c6c" opacity="1" filter="url(#bS)"/>
<rect x="144.4" y="399.95" width="6.1" height="1.3" rx="0.65" fill="#555555" opacity="1" filter="url(#bS)"/>
<rect x="151.5" y="400.3" width="8.7" height="1.2" rx="0.6" fill="#6a6a6a" opacity="1" filter="url(#bS)"/>
<rect x="166.9" y="400.4" width="13.5" height="1.4" rx="0.7" fill="#505050" opacity="1" filter="url(#bS)"/>
<text x="256.3" y="261.6" font-size="18" font-family="Liberation Sans" font-weight="bold" textLength="12.4" lengthAdjust="spacingAndGlyphs" fill="#000" style="stroke:#000;stroke-width:0.5px">C</text>
<line x1="340.7" y1="260.4" x2="340.7" y2="431.4" stroke="#2a2a2a" stroke-width="1.4"/>
<line x1="340" y1="430.8" x2="462" y2="430.8" stroke="#2a2a2a" stroke-width="1.4"/>
<line x1="336" y1="270.3" x2="340.7" y2="270.3" stroke="#2a2a2a" stroke-width="1.3"/>
<text x="331.4" y="275.2" font-size="14.6" font-family="Liberation Serif" text-anchor="end" font-weight="bold">10</text>
<line x1="336" y1="302.48" x2="340.7" y2="302.48" stroke="#2a2a2a" stroke-width="1.3"/>
<text x="331.4" y="307.38" font-size="14.6" font-family="Liberation Serif" text-anchor="end" font-weight="bold">8</text>
<line x1="336" y1="334.66" x2="340.7" y2="334.66" stroke="#2a2a2a" stroke-width="1.3"/>
<text x="331.4" y="339.56" font-size="14.6" font-family="Liberation Serif" text-anchor="end" font-weight="bold">6</text>
<line x1="336" y1="366.84" x2="340.7" y2="366.84" stroke="#2a2a2a" stroke-width="1.3"/>
<text x="331.4" y="371.74" font-size="14.6" font-family="Liberation Serif" text-anchor="end" font-weight="bold">4</text>
<line x1="336" y1="399.02" x2="340.7" y2="399.02" stroke="#2a2a2a" stroke-width="1.3"/>
<text x="331.4" y="403.92" font-size="14.6" font-family="Liberation Serif" text-anchor="end" font-weight="bold">2</text>
<line x1="360.2" y1="414" x2="360.2" y2="412" stroke="#111111" stroke-width="1.3"/>
<line x1="357.95" y1="412" x2="362.45" y2="412" stroke="#111111" stroke-width="1.82"/>
<rect x="346.4" y="414.8" width="9.2" height="16" fill="#de9424" stroke="#111" stroke-width="1.3"/>
<rect x="355.6" y="414" width="9.2" height="16.8" fill="#62a9cf" stroke="#111" stroke-width="1.3"/>
<line x1="390.6" y1="322" x2="390.6" y2="306.5" stroke="#111111" stroke-width="1.3"/>
<line x1="388.35" y1="306.5" x2="392.85" y2="306.5" stroke="#111111" stroke-width="1.82"/>
<rect x="376.8" y="416.6" width="9.2" height="14.2" fill="#de9424" stroke="#111" stroke-width="1.3"/>
<rect x="386" y="322" width="9.2" height="108.8" fill="#62a9cf" stroke="#111" stroke-width="1.3"/>
<line x1="412.2" y1="387.9" x2="412.2" y2="378.4" stroke="#111111" stroke-width="1.3"/>
<line x1="409.95" y1="378.4" x2="414.45" y2="378.4" stroke="#111111" stroke-width="1.82"/>
<line x1="421.4" y1="331.7" x2="421.4" y2="315.5" stroke="#111111" stroke-width="1.3"/>
<line x1="419.15" y1="315.5" x2="423.65" y2="315.5" stroke="#111111" stroke-width="1.82"/>
<rect x="407.6" y="387.9" width="9.2" height="42.9" fill="#de9424" stroke="#111" stroke-width="1.3"/>
<rect x="416.8" y="331.7" width="9.2" height="99.1" fill="#62a9cf" stroke="#111" stroke-width="1.3"/>
<line x1="442.7" y1="389.7" x2="442.7" y2="384" stroke="#111111" stroke-width="1.3"/>
<line x1="440.45" y1="384" x2="444.95" y2="384" stroke="#111111" stroke-width="1.82"/>
<line x1="451.9" y1="342.9" x2="451.9" y2="340.2" stroke="#111111" stroke-width="1.3"/>
<line x1="449.65" y1="340.2" x2="454.15" y2="340.2" stroke="#111111" stroke-width="1.82"/>
<rect x="438.1" y="389.7" width="9.2" height="41.1" fill="#de9424" stroke="#111" stroke-width="1.3"/>
<rect x="447.3" y="342.9" width="9.2" height="87.9" fill="#62a9cf" stroke="#111" stroke-width="1.3"/>
<rect x="441" y="264.3" width="11.8" height="11.8" fill="#de9424" stroke="#111" stroke-width="1.4"/>
<rect x="441" y="280.2" width="11.8" height="11.8" fill="#62a9cf" stroke="#111" stroke-width="1.4"/>
<text x="458.5" y="275.4" font-size="14.3" font-family="Liberation Serif" textLength="40.9" lengthAdjust="spacingAndGlyphs">Vehicle</text>
<text x="458.5" y="291.3" font-size="14.3" font-family="Liberation Serif" textLength="52.1" lengthAdjust="spacingAndGlyphs">ABT-737</text>
<text x="296.2" y="396.3" font-size="13.6" font-family="Liberation Serif" transform="rotate(-90 296.2 396.3)" textLength="99.4" lengthAdjust="spacingAndGlyphs">shRNA Depletion</text>
<text x="312" y="399" font-size="13.6" font-family="Liberation Serif" transform="rotate(-90 312 399)" textLength="104" lengthAdjust="spacingAndGlyphs">[DMSO/ABT-737]</text>
<text x="360.2" y="435" font-size="14.6" font-family="Liberation Serif" text-anchor="end" transform="rotate(-90 360.2 435)" textLength="56.5" lengthAdjust="spacingAndGlyphs">Fluc.1309</text>
<text x="391.8" y="435" font-size="14.6" font-family="Liberation Serif" text-anchor="end" transform="rotate(-90 391.8 435)" textLength="66" lengthAdjust="spacingAndGlyphs">Mcl-1.2340</text>
<text x="421.6" y="435" font-size="14.6" font-family="Liberation Serif" text-anchor="end" transform="rotate(-90 421.6 435)" textLength="56.5" lengthAdjust="spacingAndGlyphs">Dhx9.860</text>
<text x="450.6" y="435" font-size="14.6" font-family="Liberation Serif" text-anchor="end" transform="rotate(-90 450.6 435)" textLength="61.5" lengthAdjust="spacingAndGlyphs">Dhx9.2296</text>
<text x="0.6" y="445.2" font-size="18" font-family="Liberation Sans" font-weight="bold" textLength="11.6" lengthAdjust="spacingAndGlyphs" fill="#000" style="stroke:#000;stroke-width:0.5px">D</text>
<line x1="77.6" y1="455.4" x2="77.6" y2="626.6" stroke="#2a2a2a" stroke-width="1.4"/>
<line x1="77" y1="626" x2="268.8" y2="626" stroke="#2a2a2a" stroke-width="1.4"/>
<line x1="73" y1="465.45" x2="77.6" y2="465.45" stroke="#2a2a2a" stroke-width="1.3"/>
<text x="68.6" y="470.55" font-size="15" font-family="Liberation Serif" text-anchor="end">10</text>
<line x1="73" y1="497.6" x2="77.6" y2="497.6" stroke="#2a2a2a" stroke-width="1.3"/>
<text x="68.6" y="502.7" font-size="15" font-family="Liberation Serif" text-anchor="end">8</text>
<line x1="73" y1="529.75" x2="77.6" y2="529.75" stroke="#2a2a2a" stroke-width="1.3"/>
<text x="68.6" y="534.85" font-size="15" font-family="Liberation Serif" text-anchor="end">6</text>
<line x1="73" y1="561.9" x2="77.6" y2="561.9" stroke="#2a2a2a" stroke-width="1.3"/>
<text x="68.6" y="567" font-size="15" font-family="Liberation Serif" text-anchor="end">4</text>
<line x1="73" y1="594.05" x2="77.6" y2="594.05" stroke="#2a2a2a" stroke-width="1.3"/>
<text x="68.6" y="599.15" font-size="15" font-family="Liberation Serif" text-anchor="end">2</text>
<line x1="89.3" y1="607.7" x2="89.3" y2="606.6" stroke="#111111" stroke-width="1.3"/>
<line x1="87.05" y1="606.6" x2="91.55" y2="606.6" stroke="#111111" stroke-width="1.82"/>
<line x1="100.9" y1="604.6" x2="100.9" y2="603" stroke="#111111" stroke-width="1.3"/>
<line x1="98.65" y1="603" x2="103.15" y2="603" stroke="#111111" stroke-width="1.82"/>
<rect x="83.5" y="607.7" width="11.6" height="18.3" fill="#de9424" stroke="#111" stroke-width="1.3"/>
<rect x="95.1" y="604.6" width="11.6" height="21.4" fill="#62a9cf" stroke="#111" stroke-width="1.3"/>
<rect x="109.4" y="606.9" width="11.6" height="19.1" fill="#de9424" stroke="#111" stroke-width="1.3"/>
<rect x="121" y="606.9" width="11.6" height="19.1" fill="#62a9cf" stroke="#111" stroke-width="1.3"/>
<line x1="153.9" y1="587.3" x2="153.9" y2="582" stroke="#111111" stroke-width="1.3"/>
<line x1="151.65" y1="582" x2="156.15" y2="582" stroke="#111111" stroke-width="1.82"/>
<line x1="165.5" y1="528.9" x2="165.5" y2="517.3" stroke="#111111" stroke-width="1.3"/>
<line x1="163.25" y1="517.3" x2="167.75" y2="517.3" stroke="#111111" stroke-width="1.82"/>
<rect x="148.1" y="587.3" width="11.6" height="38.7" fill="#de9424" stroke="#111" stroke-width="1.3"/>
<rect x="159.7" y="528.9" width="11.6" height="97.1" fill="#62a9cf" stroke="#111" stroke-width="1.3"/>
<line x1="180" y1="604.4" x2="180" y2="603" stroke="#111111" stroke-width="1.3"/>
<line x1="177.75" y1="603" x2="182.25" y2="603" stroke="#111111" stroke-width="1.82"/>
<line x1="191.6" y1="604.4" x2="191.6" y2="601.6" stroke="#111111" stroke-width="1.3"/>
<line x1="189.35" y1="601.6" x2="193.85" y2="601.6" stroke="#111111" stroke-width="1.82"/>
<rect x="174.2" y="604.4" width="11.6" height="21.6" fill="#de9424" stroke="#111" stroke-width="1.3"/>
<rect x="185.8" y="604.4" width="11.6" height="21.6" fill="#62a9cf" stroke="#111" stroke-width="1.3"/>
<line x1="218.8" y1="611.3" x2="218.8" y2="610.5" stroke="#111111" stroke-width="1.3"/>
<line x1="216.55" y1="610.5" x2="221.05" y2="610.5" stroke="#111111" stroke-width="1.82"/>
<line x1="230.4" y1="492.9" x2="230.4" y2="480.4" stroke="#111111" stroke-width="1.3"/>
<line x1="228.15" y1="480.4" x2="232.65" y2="480.4" stroke="#111111" stroke-width="1.82"/>
<rect x="213" y="611.3" width="11.6" height="14.7" fill="#de9424" stroke="#111" stroke-width="1.3"/>
<rect x="224.6" y="492.9" width="11.6" height="133.1" fill="#62a9cf" stroke="#111" stroke-width="1.3"/>
<line x1="255.9" y1="583.8" x2="255.9" y2="577.7" stroke="#111111" stroke-width="1.3"/>
<line x1="253.65" y1="577.7" x2="258.15" y2="577.7" stroke="#111111" stroke-width="1.82"/>
<rect x="238.5" y="609.8" width="11.6" height="16.2" fill="#de9424" stroke="#111" stroke-width="1.3"/>
<rect x="250.1" y="583.8" width="11.6" height="42.2" fill="#62a9cf" stroke="#111" stroke-width="1.3"/>
<rect x="95.1" y="466.6" width="11" height="11" fill="#de9424" stroke="#111" stroke-width="1.4"/>
<rect x="95.1" y="482.7" width="11" height="11" fill="#62a9cf" stroke="#111" stroke-width="1.4"/>
<text x="114.4" y="477.3" font-size="14.3" font-family="Liberation Serif" textLength="40.9" lengthAdjust="spacingAndGlyphs">Vehicle</text>
<text x="114.4" y="492.5" font-size="14.3" font-family="Liberation Serif" textLength="51.9" lengthAdjust="spacingAndGlyphs">ABT-737</text>
<text x="34.2" y="594.4" font-size="13.6" font-family="Liberation Serif" transform="rotate(-90 34.2 594.4)" textLength="99.2" lengthAdjust="spacingAndGlyphs">shRNA Depletion</text>
<text x="50.4" y="597" font-size="13.6" font-family="Liberation Serif" transform="rotate(-90 50.4 597)" textLength="102.7" lengthAdjust="spacingAndGlyphs">[DMSO/ABT-737]</text>
<text x="26.2" y="635" font-size="14" font-family="Liberation Serif" font-weight="bold" textLength="50" lengthAdjust="spacingAndGlyphs">p53.975:</text>
<line x1="91.6" y1="633.2" x2="98.6" y2="633.2" stroke="#222" stroke-width="1"/>
<line x1="156.5" y1="633.2" x2="163.5" y2="633.2" stroke="#222" stroke-width="1"/>
<line x1="220.3" y1="633.2" x2="227.3" y2="633.2" stroke="#222" stroke-width="1"/>
<line x1="116.95" y1="632.6" x2="123.45" y2="632.6" stroke="#222" stroke-width="1.2"/>
<line x1="120.2" y1="629.35" x2="120.2" y2="635.85" stroke="#222" stroke-width="1.2"/>
<line x1="184.75" y1="632.6" x2="191.25" y2="632.6" stroke="#222" stroke-width="1.2"/>
<line x1="188" y1="629.35" x2="188" y2="635.85" stroke="#222" stroke-width="1.2"/>
<line x1="246.25" y1="632.6" x2="252.75" y2="632.6" stroke="#222" stroke-width="1.2"/>
<line x1="249.5" y1="629.35" x2="249.5" y2="635.85" stroke="#222" stroke-width="1.2"/>
<path d="M80.6 636.8 V645.6 H133.4 V636.8" fill="none" stroke="#1a1a1a" stroke-width="1.8"/>
<path d="M148 636.8 V645.6 H200.8 V636.8" fill="none" stroke="#1a1a1a" stroke-width="1.8"/>
<path d="M213.2 636.8 V645.6 H262.5 V636.8" fill="none" stroke="#1a1a1a" stroke-width="1.8"/>
<text x="75" y="660" font-size="14.5" font-family="Liberation Serif" textLength="55.7" lengthAdjust="spacingAndGlyphs">Fluc.1309</text>
<text x="147.5" y="660" font-size="14.5" font-family="Liberation Serif" textLength="53.9" lengthAdjust="spacingAndGlyphs">Dhx9.860</text>
<text x="209.6" y="660.4" font-size="14.5" font-family="Liberation Serif" textLength="64.6" lengthAdjust="spacingAndGlyphs">Mcl-1.2340</text>
<text x="294" y="514.2" font-size="18" font-family="Liberation Sans" font-weight="bold" textLength="11" lengthAdjust="spacingAndGlyphs" fill="#000" style="stroke:#000;stroke-width:0.5px">E</text>
<text x="374.6" y="574.8" font-size="14.5" font-family="Liberation Serif" transform="rotate(-90 374.6 574.8)" textLength="55.4" lengthAdjust="spacingAndGlyphs">Fluc.1309</text>
<text x="396.9" y="574.8" font-size="14.5" font-family="Liberation Serif" transform="rotate(-90 396.9 574.8)" textLength="64.6" lengthAdjust="spacingAndGlyphs">Mcl-1.2340</text>
<text x="422.2" y="574.8" font-size="14.5" font-family="Liberation Serif" transform="rotate(-90 422.2 574.8)" textLength="54.6" lengthAdjust="spacingAndGlyphs">Dhx9.860</text>
<text x="460" y="574.8" font-size="14.5" font-family="Liberation Serif" transform="rotate(-90 460 574.8)" textLength="55.4" lengthAdjust="spacingAndGlyphs">Fluc.1309</text>
<text x="481.5" y="574.8" font-size="14.5" font-family="Liberation Serif" transform="rotate(-90 481.5 574.8)" textLength="64.6" lengthAdjust="spacingAndGlyphs">Mcl-1.2340</text>
<text x="507" y="574.8" font-size="14.5" font-family="Liberation Serif" transform="rotate(-90 507 574.8)" textLength="54.6" lengthAdjust="spacingAndGlyphs">Dhx9.860</text>
<rect x="356.8" y="581.5" width="74.5" height="14.2" fill="#8d8d8d"/>
<rect x="445.8" y="581.5" width="74.2" height="14.2" fill="#8f8f8f"/>
<rect x="356.8" y="599.6" width="74.5" height="14.6" fill="#c0c0c0"/>
<rect x="445.8" y="599.6" width="74.2" height="14.6" fill="#c6c6c6"/>
<rect x="356.8" y="618.2" width="74.5" height="14.4" fill="#a4a2a1"/>
<rect x="445.8" y="618.2" width="74.2" height="14.4" fill="#a9a5a3"/>
<rect x="356.8" y="636.9" width="74.5" height="14.4" fill="#9d9794"/>
<rect x="445.8" y="636.9" width="74.2" height="14.4" fill="#9b9592"/>
<rect x="356.8" y="655.8" width="74.5" height="14.8" fill="#afabaa"/>
<rect x="445.8" y="655.8" width="74.2" height="14.8" fill="#aca9a7"/>
<rect x="356.8" y="675.3" width="74.5" height="14.5" fill="#999999"/>
<rect x="445.8" y="675.3" width="74.2" height="14.5" fill="#9a9a9a"/>
<text x="350.6" y="591.6" font-size="13.5" font-family="Liberation Serif" text-anchor="end">Dhx9</text>
<text x="350.6" y="610.4" font-size="13.5" font-family="Liberation Serif" text-anchor="end">p53</text>
<text x="350.6" y="629.8" font-size="13.5" font-family="Liberation Serif" text-anchor="end">Mdm2</text>
<text x="350.6" y="648.3" font-size="13.5" font-family="Liberation Serif" text-anchor="end">Mcl-1</text>
<text x="350.6" y="666.7" font-size="13.5" font-family="Liberation Serif" text-anchor="end">p21</text>
<text x="350.6" y="686.9" font-size="13.5" font-family="Liberation Serif" text-anchor="end">eEF2</text>
<rect x="361" y="587.8" width="18" height="2.4" rx="1.2" fill="#1e1e1e" opacity="1" filter="url(#bS)"/>
<rect x="384" y="587.8" width="19" height="2.4" rx="1.2" fill="#1e1e1e" opacity="1" filter="url(#bS)"/>
<rect x="409" y="588.4" width="16" height="1.6" rx="0.8" fill="#444" opacity="0.9" filter="url(#bS)"/>
<rect x="358" y="604.7" width="20" height="2.2" rx="1.1" fill="#444" opacity="1" filter="url(#bS)"/>
<rect x="384" y="605.7" width="16" height="1.6" rx="0.8" fill="#888" opacity="0.8" filter="url(#bS)"/>
<path d="M410.4 607.0 Q411.6 604.6 415.5 604.3 L426.2 604.1 Q429.8 604.9 430.0 607.3 Q429.8 609.9 426.2 610.5 L415.5 610.2 Q411.6 609.6 410.4 607.6 Z" fill="#0e0e0e" filter="url(#bS)"/>
<rect x="363" y="625" width="18" height="2" rx="1" fill="#555" opacity="1" filter="url(#bS)"/>
<rect x="386" y="625.7" width="18" height="1.8" rx="0.9" fill="#5a5a5a" opacity="1" filter="url(#bS)"/>
<rect x="409" y="625.1" width="20" height="2.6" rx="1.3" fill="#3a3a3a" opacity="1" filter="url(#bS)"/>
<rect x="360" y="642.1" width="20" height="1.8" rx="0.9" fill="#4a4444" opacity="1" filter="url(#bS)"/>
<rect x="409" y="642.5" width="16" height="2.2" rx="1.1" fill="#3d3636" opacity="1" filter="url(#bS)"/>
<rect x="363" y="660.5" width="21" height="5" rx="2.5" fill="#8f8b89" opacity="0.8" filter="url(#bL)"/>
<rect x="413" y="660.5" width="17" height="7" rx="3" fill="#4d4745" opacity="0.9" filter="url(#bL)"/>
<rect x="359" y="680.3" width="19" height="2.4" rx="1.2" fill="#1a1a1a" opacity="1" filter="url(#bS)"/>
<rect x="383" y="680.8" width="18" height="2.4" rx="1.2" fill="#1a1a1a" opacity="1" filter="url(#bS)"/>
<rect x="407" y="681.9" width="18" height="2.6" rx="1.3" fill="#151515" opacity="1" filter="url(#bS)"/>
<rect x="448" y="587" width="18" height="3" rx="1.5" fill="#111" opacity="1" filter="url(#bS)"/>
<rect x="474" y="587.5" width="18" height="3" rx="1.5" fill="#111" opacity="1" filter="url(#bS)"/>
<rect x="497" y="588.1" width="19" height="1.8" rx="0.9" fill="#3a3a3a" opacity="1" filter="url(#bS)"/>
<rect x="476" y="624.9" width="18" height="1.4" rx="0.7" fill="#8a8280" opacity="0.8" filter="url(#bS)"/>
<rect x="499" y="625.1" width="19" height="1.4" rx="0.7" fill="#8a8280" opacity="0.8" filter="url(#bS)"/>
<rect x="448" y="642.3" width="18" height="1.8" rx="0.9" fill="#6a5f5c" opacity="0.9" filter="url(#bS)"/>
<rect x="474" y="643.2" width="16" height="1.2" rx="0.6" fill="#8a8280" opacity="0.7" filter="url(#bS)"/>
<rect x="495" y="642.7" width="21" height="2.2" rx="1.1" fill="#3e3433" opacity="1" filter="url(#bS)"/>
<rect x="448" y="682.2" width="19" height="2.6" rx="1.3" fill="#161616" opacity="1" filter="url(#bS)"/>
<rect x="473" y="681.9" width="19" height="2.6" rx="1.3" fill="#161616" opacity="1" filter="url(#bS)"/>
<rect x="497" y="681.5" width="20" height="2.6" rx="1.3" fill="#161616" opacity="1" filter="url(#bS)"/>
<text x="306.4" y="707.8" font-size="14" font-family="Liberation Serif" font-weight="bold" textLength="51.2" lengthAdjust="spacingAndGlyphs">p53.975:</text>
<line x1="366.65" y1="705.6" x2="374.15" y2="705.6" stroke="#222" stroke-width="1.2"/>
<line x1="390.05" y1="705.6" x2="397.55" y2="705.6" stroke="#222" stroke-width="1.2"/>
<line x1="413.75" y1="705.6" x2="421.25" y2="705.6" stroke="#222" stroke-width="1.2"/>
<line x1="453.4" y1="704.6" x2="460.4" y2="704.6" stroke="#222" stroke-width="1.3"/>
<line x1="456.9" y1="701.1" x2="456.9" y2="708.1" stroke="#222" stroke-width="1.3"/>
<line x1="479" y1="704.6" x2="486" y2="704.6" stroke="#222" stroke-width="1.3"/>
<line x1="482.5" y1="701.1" x2="482.5" y2="708.1" stroke="#222" stroke-width="1.3"/>
<line x1="504.6" y1="704.6" x2="511.6" y2="704.6" stroke="#222" stroke-width="1.3"/>
<line x1="508.1" y1="701.1" x2="508.1" y2="708.1" stroke="#222" stroke-width="1.3"/>
</svg>
</body></html>
